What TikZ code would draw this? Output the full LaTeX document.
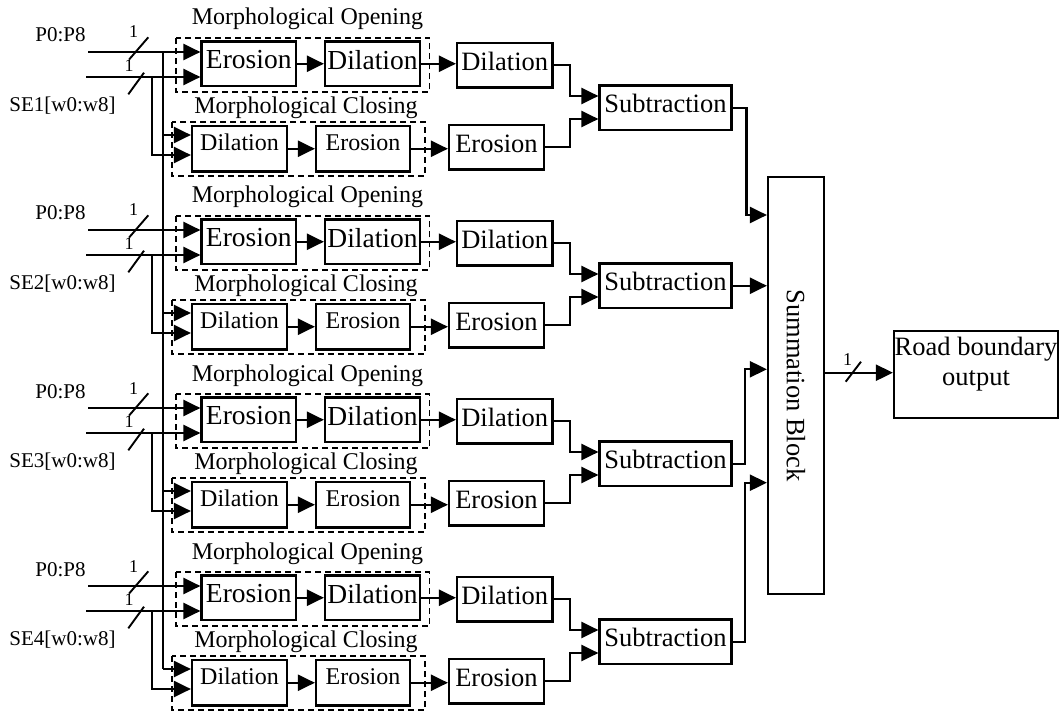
\documentclass[tikz,border=0pt]{standalone}
\usepackage{fontspec}
\setmainfont{Liberation Serif}
\usetikzlibrary{arrows.meta,calc}
\begin{document}
\begin{tikzpicture}[x=1pt,y=-1pt,
  box/.style={draw,line width=2.2pt,inner sep=0pt,rectangle,text depth=8pt},
  obox/.style={box,minimum height=44.5pt,font=\fontsize{27.5}{30}\selectfont},
  cbox/.style={box,minimum height=45.5pt,text depth=12.5pt,font=\fontsize{24}{26}\selectfont},
  sbox/.style={box,minimum height=44.5pt,font=\fontsize{26.5}{29}\selectfont},
  dbox/.style={draw,dash pattern=on 6pt off 4pt,line width=1.7pt},
  arr/.style={line width=2.2pt,-{Triangle[length=17pt,width=16pt]}},
  ln/.style={line width=2.2pt},
  sl/.style={line width=1.9pt},
  lbl/.style={inner sep=0pt,anchor=base,font=\fontsize{21}{24}\selectfont},
  one/.style={inner sep=0pt,anchor=base,font=\fontsize{18}{20}\selectfont},
  mlbl/.style={inner sep=0pt,anchor=base,font=\fontsize{24}{27}\selectfont}]
\useasboundingbox (0,0) rectangle (1060,711);

\foreach \g in {1,2,3,4}{
  \pgfmathsetmacro\o{178*(\g-1)}
  % labels
  \node[lbl] (pl\g) at (60.5,42+\o) {P0:P8};
  \node[lbl] (sl\g) at (62.5,111.5+\o) {SE\g[w0:w8]};
  \node[mlbl] (mo\g) at (307.5,25+\o) {Morphological Opening};
  \node[mlbl] (mc\g) at (306,113.3+\o) {Morphological Closing};
  % dashed groups
  \draw[dbox] (176,38+\o) rectangle (429.5,92+\o);
  \draw[dbox] (172,122+\o) rectangle (425,176+\o);
  % boxes
  \node[obox,minimum width=94.5pt] (eo\g) at (248.75,63.75+\o) {Erosion};
  \node[obox,minimum width=95pt] (do\g) at (372.5,63.75+\o) {Dilation};
  \node[sbox,minimum width=95.5pt] (ds\g) at (504.75,65.25+\o) {Dilation};
  \node[cbox,minimum width=95pt] (dc\g) at (239.5,148.75+\o) {Dilation};
  \node[cbox,minimum width=94pt] (ec\g) at (363,148.75+\o) {Erosion};
  \node[sbox,minimum width=95pt] (es\g) at (496.5,147.25+\o) {Erosion};
  \node[sbox,minimum width=132pt] (sub\g) at (665.5,107.75+\o) {Subtraction};
  % inputs
  \coordinate (p0\g) at (88,52+\o);
  \coordinate (se\g) at (86,77+\o);
  \draw[arr] (p0\g) -- (eo\g.west |- p0\g);
  \draw[arr] (se\g) -- (eo\g.west |- se\g);
  \coordinate (sj\g) at (151.7,77+\o);
  \coordinate (sb\g) at (151.7,155+\o);
  \coordinate (bj\g) at (163.3,135+\o);
  \draw[arr] (bj\g) -- (dc\g.west |- bj\g);
  \draw[arr] (sj\g) -- (sb\g) -- (dc\g.west |- sb\g);
  % bus width slashes
  \draw[sl] (129.3,59.3+\o) -- (148.3,37.3+\o);
  \draw[sl] (128.3,94.3+\o) -- (144,72.7+\o);
  \node[one] (n1\g) at (133.5,38+\o) {1};
  \node[one] (n2\g) at (129,71.7+\o) {1};
  % internal connectors
  \draw[arr] (eo\g) -- (do\g);
  \draw[arr] (do\g.east) -- (ds\g.west |- do\g.east);
  \draw[arr] (dc\g) -- (ec\g);
  \draw[arr] (ec\g.east) -- (es\g.west |- ec\g.east);
  \draw[arr] (ds\g.east) -- ++(16.5,0) |- ($(sub\g.west)+(0,-11.75)$);
  \draw[arr] (es\g.east) -- ++(25,0) |- ($(sub\g.west)+(0,11.25)$);
}
% shared P0 bus
\draw[ln] (163.3,52) -- (163.3,669);

% summation block
\node[box,text depth=0pt,minimum width=56pt,minimum height=417pt,
  label={[rotate=-90,font=\fontsize{26.5}{29}\selectfont]center:Summation Block}] (sum) at (796,385.5) {};
\coordinate (s1) at (746.5,215);
\coordinate (s3) at (745,369.3);
\coordinate (s4) at (745,482.7);
\draw[arr] (sub1.east) -| (s1) -- (sum.west |- s1);
\draw[arr] (sub2.east) -- (sum.west |- sub2.east);
\draw[arr] (sub3.east) -| (s3) -- (sum.west |- s3);
\draw[arr] (sub4.east) -| (s4) -- (sum.west |- s4);

% output
\node[box,text depth=0pt,minimum width=164pt,minimum height=87pt,
  label={[align=center,yshift=10pt,font=\fontsize{26.5}{30}\selectfont]center:Road boundary\\output}] (road) at (976,374.5) {};
\coordinate (ro) at (824,372.7);
\draw[arr] (ro) -- (road.west |- ro);
\draw[sl] (845.7,381.7) -- (861,361.7);
\node[one] (n5) at (847.7,365) {1};
\end{tikzpicture}
\end{document}
